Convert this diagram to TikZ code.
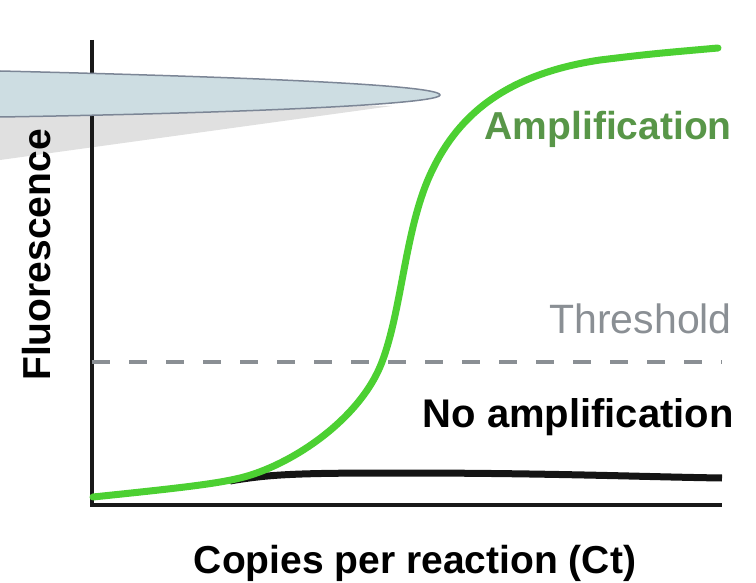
\documentclass[tikz,border=0pt]{standalone}
\usepackage{fontspec}
\setmainfont{Liberation Sans}
\usepackage{tikz}
\usetikzlibrary{calc}

\definecolor{curvegreen}{RGB}{76,208,50}
\definecolor{labelgreen}{RGB}{88,150,72}
\definecolor{threshgray}{RGB}{138,143,148}
\definecolor{blobfill}{RGB}{205,221,226}
\definecolor{blobedge}{RGB}{124,134,150}
\definecolor{shadowgray}{RGB}{224,224,224}

\tikzset{
  axisline/.style={line width=4pt,black!90},
  ampcurve/.style={line width=7pt,curvegreen,line cap=round},
  flatcurve/.style={line width=7pt,black!92,line cap=butt},
  threshline/.style={line width=4pt,threshgray,dash pattern=on 18pt off 19pt},
  biglabel/.style={inner sep=0pt,font=\fontsize{39}{40}\selectfont\bfseries},
}

\begin{document}
\begin{tikzpicture}[x=1pt,y=-1pt]%qPCR
\useasboundingbox (0,0) rectangle (756,583);
\fill[shadowgray] (0,100) -- (0,160) -- (392,106) -- cycle;
\coordinate (ytop) at (92,40);
\coordinate (origin) at (92,505);
\coordinate (xend) at (722,505);
\coordinate (thrstart) at (92,362);
\coordinate (thrend) at (722,362);
\draw[axisline] (ytop) -- (origin) -- (xend);
\draw[threshline] (thrstart) -- (thrend);
\draw[flatcurve] (230,481) .. controls (270,474) and (300,473) .. (400,473)
  .. controls (550,473) and (650,477) .. (722,478);
\draw[ampcurve] (93,497) .. controls (180,488) and (215,484) .. (240,478)
  .. controls (290,466) and (360,420) .. (382,362)
  .. controls (402,309) and (405,230) .. (430,175)
  .. controls (455,120) and (500,75) .. (600,60)
  .. controls (650,54) .. (718,48);
\draw {(732,140) node[biglabel,anchor=base east,text=labelgreen] (amp) {Amplification}
(732,333) node[inner sep=0pt,anchor=base east,text=threshgray,font=\fontsize{41}{42}\selectfont] (thr) {Threshold}
(734,427) node[biglabel,anchor=base east,font=\fontsize{40}{41}\selectfont\bfseries] (noamp) {No amplification}
(415,573) node[biglabel,anchor=base] (xlab) {Copies per reaction (Ct)}
(50,255) node[biglabel,anchor=base,rotate=90] (ylab) {Fluorescence}};
\fill[blobfill] (0,71) .. controls (250,77) and (440,85) .. (440,95)
  .. controls (440,104) and (250,113) .. (0,117) -- cycle;
\draw[blobedge,line width=1.5pt] (0,71) .. controls (250,77) and (440,85) .. (440,95)
  .. controls (440,104) and (250,113) .. (0,117);
\end{tikzpicture}
\end{document}
